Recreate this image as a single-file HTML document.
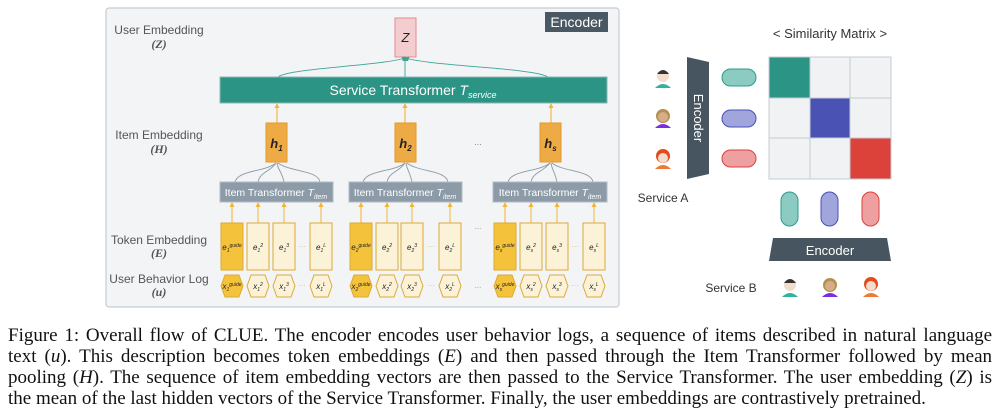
<!DOCTYPE html>
<html><head><meta charset="utf-8">
<style>
html,body{margin:0;padding:0;background:#fff;}
body{width:999px;height:417px;position:relative;overflow:hidden;}
svg{position:absolute;left:0;top:0;}
.cap{position:absolute;left:8px;top:325px;width:984px;font-family:"Liberation Serif",serif;font-size:19px;line-height:21px;color:#111;}
.cap div{text-align:justify;text-align-last:justify;white-space:nowrap;}
.cap div.last{text-align-last:left;}
</style></head><body>
<svg width="999" height="417" xmlns="http://www.w3.org/2000/svg" font-family="Liberation Sans, sans-serif">
<defs>
<marker id="ao" markerUnits="userSpaceOnUse" markerWidth="6" markerHeight="6" refX="3" refY="3" orient="auto"><path d="M0,0.5 L5,3 L0,5.5z" fill="#f0b63a"/></marker>
<marker id="at" markerUnits="userSpaceOnUse" markerWidth="6" markerHeight="6" refX="3" refY="3" orient="auto"><path d="M0,0.5 L5,3 L0,5.5z" fill="#3aa595"/></marker>
</defs>
<rect x="106" y="8" width="513" height="299" rx="3" fill="#f3f4f5" stroke="#c4ccd2" stroke-width="1.2"/>
<rect x="545" y="12" width="63" height="20" fill="#4a5864"/>
<text x="576.5" y="27" font-size="14" fill="#fff" text-anchor="middle">Encoder</text>
<g font-size="12" fill="#555" text-anchor="middle">
<text x="159" y="34">User Embedding</text>
<text x="159" y="48" font-family="Liberation Serif, serif" font-style="italic" font-weight="bold" font-size="12">(Z)</text>
<text x="159" y="139">Item Embedding</text>
<text x="159" y="153" font-family="Liberation Serif, serif" font-style="italic" font-weight="bold" font-size="12">(H)</text>
<text x="159" y="244">Token Embedding</text>
<text x="159" y="257" font-family="Liberation Serif, serif" font-style="italic" font-weight="bold" font-size="12">(E)</text>
<text x="159" y="283">User Behavior Log</text>
<text x="159" y="296" font-family="Liberation Serif, serif" font-style="italic" font-weight="bold" font-size="12">(u)</text>
</g>
<rect x="395" y="18" width="21" height="39" fill="#f4cdd0" stroke="#e88a90" stroke-width="1"/>
<text x="405.5" y="42" font-size="13" font-style="italic" text-anchor="middle" fill="#222">Z</text>
<g fill="none" stroke="#3aa595" stroke-width="0.9">
<path d="M278,77 C290,68 380,66 405,58" marker-end="url(#at)"/>
<path d="M405,77 L405,58" marker-end="url(#at)"/>
<path d="M548,77 C535,68 430,66 406,58" marker-end="url(#at)"/>
</g>
<rect x="220" y="77" width="387" height="26" fill="#2b9484" stroke="#8fb8b0" stroke-width="1"/>
<text x="413" y="95" font-size="14" fill="#fff" text-anchor="middle">Service Transformer <tspan font-style="italic">T</tspan><tspan font-size="9" font-style="italic" dy="3">service</tspan></text>
<g stroke="#f5c56a" stroke-width="1.5" fill="none">
<path d="M277,123 L277,105" marker-end="url(#ao)"/>
<path d="M405,123 L405,105" marker-end="url(#ao)"/>
<path d="M551,123 L551,105" marker-end="url(#ao)"/>
</g>
<g fill="#eeab45" stroke="#e39a2a" stroke-width="1">
<rect x="266" y="123" width="21" height="39"/>
<rect x="395" y="123" width="21" height="39"/>
<rect x="540" y="123" width="21" height="39"/>
</g>
<g font-size="13" font-style="italic" font-weight="bold" fill="#222" text-anchor="middle">
<text x="276.5" y="148">h<tspan font-size="8" dy="3">1</tspan></text>
<text x="405.5" y="148">h<tspan font-size="8" dy="3">2</tspan></text>
<text x="550.5" y="148">h<tspan font-size="8" dy="3">s</tspan></text>
</g>
<text x="478" y="145" font-size="9" fill="#888" text-anchor="middle">...</text>
<g fill="none" stroke="#8a9aa6" stroke-width="0.9">
<path d="M235,182 C238,170 265,172 276,163"/><path d="M258,182 C260,172 270,172 276,163"/><path d="M284,182 C282,172 278,170 277,163"/><path d="M320,182 C318,170 290,172 278,163"/>
<path d="M363,182 C366,170 394,172 405,163"/><path d="M387,182 C389,172 399,172 405,163"/><path d="M412,182 C410,172 407,170 406,163"/><path d="M448,182 C446,170 418,172 407,163"/>
<path d="M508,182 C511,170 539,172 550,163"/><path d="M531,182 C533,172 543,172 550,163"/><path d="M557,182 C555,172 552,170 551,163"/><path d="M593,182 C591,170 563,172 552,163"/>
</g>
<g fill="#8c9ba7" stroke="#b0bcc5" stroke-width="1">
<rect x="220" y="182" width="113" height="20"/>
<rect x="349" y="182" width="113" height="20"/>
<rect x="493" y="182" width="114" height="20"/>
</g>
<g font-size="10.5" fill="#fff" text-anchor="middle">
<text x="276" y="196">Item Transformer <tspan font-style="italic">T</tspan><tspan font-size="7" font-style="italic" dy="3">item</tspan></text>
<text x="405" y="196">Item Transformer <tspan font-style="italic">T</tspan><tspan font-size="7" font-style="italic" dy="3">item</tspan></text>
<text x="550" y="196">Item Transformer <tspan font-style="italic">T</tspan><tspan font-size="7" font-style="italic" dy="3">item</tspan></text>
</g>
<g stroke="#f0b63a" stroke-width="1" fill="none">
<path d="M232,223 V204" stroke="#f5d48a" stroke-width="2" marker-end="url(#ao)"/><path d="M258,223 V204" marker-end="url(#ao)"/><path d="M284,223 V204" marker-end="url(#ao)"/><path d="M321,223 V204" marker-end="url(#ao)"/>
<path d="M361,223 V204" stroke="#f5d48a" stroke-width="2" marker-end="url(#ao)"/><path d="M387,223 V204" marker-end="url(#ao)"/><path d="M412,223 V204" marker-end="url(#ao)"/><path d="M450,223 V204" marker-end="url(#ao)"/>
<path d="M505,223 V204" stroke="#f5d48a" stroke-width="2" marker-end="url(#ao)"/><path d="M531,223 V204" marker-end="url(#ao)"/><path d="M557,223 V204" marker-end="url(#ao)"/><path d="M594,223 V204" marker-end="url(#ao)"/>
</g>
<g stroke="#dcaa36" stroke-width="1">
<rect x="221" y="223" width="22" height="47" fill="#f4c33b"/><rect x="247" y="223" width="22" height="47" fill="#fcf2d8"/><rect x="273" y="223" width="22" height="47" fill="#fcf2d8"/><rect x="310" y="223" width="22" height="47" fill="#fcf2d8"/>
<rect x="350" y="223" width="22" height="47" fill="#f4c33b"/><rect x="376" y="223" width="22" height="47" fill="#fcf2d8"/><rect x="401" y="223" width="22" height="47" fill="#fcf2d8"/><rect x="439" y="223" width="22" height="47" fill="#fcf2d8"/>
<rect x="494" y="223" width="22" height="47" fill="#f4c33b"/><rect x="520" y="223" width="22" height="47" fill="#fcf2d8"/><rect x="546" y="223" width="22" height="47" fill="#fcf2d8"/><rect x="583" y="223" width="22" height="47" fill="#fcf2d8"/>
</g>
<g stroke="#dcaa36" stroke-width="1">
<polygon points="225,275 239,275 243,286 239,297 225,297 221,286" fill="#f4c33b"/>
<polygon points="251,275 265,275 269,286 265,297 251,297 247,286" fill="#fcf2d8"/>
<polygon points="277,275 291,275 295,286 291,297 277,297 273,286" fill="#fcf2d8"/>
<polygon points="314,275 328,275 332,286 328,297 314,297 310,286" fill="#fcf2d8"/>
<polygon points="354,275 368,275 372,286 368,297 354,297 350,286" fill="#f4c33b"/>
<polygon points="380,275 394,275 398,286 394,297 380,297 376,286" fill="#fcf2d8"/>
<polygon points="405,275 419,275 423,286 419,297 405,297 401,286" fill="#fcf2d8"/>
<polygon points="443,275 457,275 461,286 457,297 443,297 439,286" fill="#fcf2d8"/>
<polygon points="498,275 512,275 516,286 512,297 498,297 494,286" fill="#f4c33b"/>
<polygon points="524,275 538,275 542,286 538,297 524,297 520,286" fill="#fcf2d8"/>
<polygon points="550,275 564,275 568,286 564,297 550,297 546,286" fill="#fcf2d8"/>
<polygon points="587,275 601,275 605,286 601,297 587,297 583,286" fill="#fcf2d8"/>
</g>
<g font-size="8" fill="#222" text-anchor="middle" font-style="italic">
<text x="232" y="250">e<tspan font-size="5" dy="2">1</tspan><tspan font-size="5" dy="-5">guide</tspan></text>
<text x="258" y="250">e<tspan font-size="5" dy="2">1</tspan><tspan font-size="5" dy="-5">2</tspan></text>
<text x="284" y="250">e<tspan font-size="5" dy="2">1</tspan><tspan font-size="5" dy="-5">3</tspan></text>
<text x="321" y="250">e<tspan font-size="5" dy="2">1</tspan><tspan font-size="5" dy="-5">L</tspan></text>
<text x="361" y="250">e<tspan font-size="5" dy="2">2</tspan><tspan font-size="5" dy="-5">guide</tspan></text>
<text x="387" y="250">e<tspan font-size="5" dy="2">2</tspan><tspan font-size="5" dy="-5">2</tspan></text>
<text x="412" y="250">e<tspan font-size="5" dy="2">2</tspan><tspan font-size="5" dy="-5">3</tspan></text>
<text x="450" y="250">e<tspan font-size="5" dy="2">2</tspan><tspan font-size="5" dy="-5">L</tspan></text>
<text x="505" y="250">e<tspan font-size="5" dy="2">s</tspan><tspan font-size="5" dy="-5">guide</tspan></text>
<text x="531" y="250">e<tspan font-size="5" dy="2">s</tspan><tspan font-size="5" dy="-5">2</tspan></text>
<text x="557" y="250">e<tspan font-size="5" dy="2">s</tspan><tspan font-size="5" dy="-5">3</tspan></text>
<text x="594" y="250">e<tspan font-size="5" dy="2">s</tspan><tspan font-size="5" dy="-5">L</tspan></text>
<text x="232" y="289">x<tspan font-size="5" dy="2">1</tspan><tspan font-size="5" dy="-5">guide</tspan></text>
<text x="258" y="289">x<tspan font-size="5" dy="2">1</tspan><tspan font-size="5" dy="-5">2</tspan></text>
<text x="284" y="289">x<tspan font-size="5" dy="2">1</tspan><tspan font-size="5" dy="-5">3</tspan></text>
<text x="321" y="289">x<tspan font-size="5" dy="2">1</tspan><tspan font-size="5" dy="-5">L</tspan></text>
<text x="361" y="289">x<tspan font-size="5" dy="2">2</tspan><tspan font-size="5" dy="-5">guide</tspan></text>
<text x="387" y="289">x<tspan font-size="5" dy="2">2</tspan><tspan font-size="5" dy="-5">2</tspan></text>
<text x="412" y="289">x<tspan font-size="5" dy="2">2</tspan><tspan font-size="5" dy="-5">3</tspan></text>
<text x="450" y="289">x<tspan font-size="5" dy="2">2</tspan><tspan font-size="5" dy="-5">L</tspan></text>
<text x="505" y="289">x<tspan font-size="5" dy="2">s</tspan><tspan font-size="5" dy="-5">guide</tspan></text>
<text x="531" y="289">x<tspan font-size="5" dy="2">s</tspan><tspan font-size="5" dy="-5">2</tspan></text>
<text x="557" y="289">x<tspan font-size="5" dy="2">s</tspan><tspan font-size="5" dy="-5">3</tspan></text>
<text x="594" y="289">x<tspan font-size="5" dy="2">s</tspan><tspan font-size="5" dy="-5">L</tspan></text>
</g>
<g font-size="8" fill="#e0c070" text-anchor="middle">
<text x="302" y="249">···</text><text x="431" y="249">···</text><text x="575" y="249">···</text>
<text x="302" y="288">···</text><text x="431" y="288">···</text><text x="575" y="288">···</text>
<text x="478" y="229" fill="#999">...</text><text x="478" y="288" fill="#999">...</text>
</g>
<text x="830" y="38" font-size="13" fill="#333" text-anchor="middle">&lt; Similarity Matrix &gt;</text>
<g stroke="#c4ccd4" stroke-width="1">
<rect x="769" y="57" width="41" height="41" fill="#2b9484"/><rect x="810" y="57" width="40" height="41" fill="#f1f2f4"/><rect x="850" y="57" width="41" height="41" fill="#f1f2f4"/>
<rect x="769" y="98" width="41" height="40" fill="#f1f2f4"/><rect x="810" y="98" width="40" height="40" fill="#4a52b4"/><rect x="850" y="98" width="41" height="40" fill="#f1f2f4"/>
<rect x="769" y="138" width="41" height="41" fill="#f1f2f4"/><rect x="810" y="138" width="40" height="41" fill="#f1f2f4"/><rect x="850" y="138" width="41" height="41" fill="#dc423a"/>
</g>
<polygon points="687,57 709,62 709,174 687,179" fill="#46555f"/>
<text transform="translate(694,118) rotate(90)" font-size="13" fill="#fff" text-anchor="middle">Encoder</text>
<rect x="722" y="69" width="34" height="17" rx="8.5" fill="#8ccbc1" stroke="#2a9d8a" stroke-width="1"/>
<rect x="722" y="110" width="34" height="17" rx="8.5" fill="#a0a6dc" stroke="#4850b8" stroke-width="1"/>
<rect x="722" y="150" width="34" height="17" rx="8.5" fill="#eea0a0" stroke="#dc4040" stroke-width="1"/>
<rect x="781" y="192" width="17" height="34" rx="8.5" fill="#8ccbc1" stroke="#2a9d8a" stroke-width="1"/>
<rect x="821" y="192" width="17" height="34" rx="8.5" fill="#a0a6dc" stroke="#4850b8" stroke-width="1"/>
<rect x="862" y="192" width="17" height="34" rx="8.5" fill="#eea0a0" stroke="#dc4040" stroke-width="1"/>
<polygon points="773,238 887,238 891,261 769,261" fill="#46555f"/>
<text x="830" y="255" font-size="13" fill="#fff" text-anchor="middle">Encoder</text>
<text x="663" y="202" font-size="12" fill="#333" text-anchor="middle">Service A</text>
<text x="731" y="292" font-size="12" fill="#333" text-anchor="middle">Service B</text>
<g>
<path d="M655,88 Q663,80 671,88 Z" fill="#2fb59c"/><circle cx="663" cy="76" r="6" fill="#f2dccb"/><path d="M657,74 Q663,66 669,74 Z" fill="#333"/>
<path d="M655,128 Q663,120 671,128 Z" fill="#7a2ee0"/><circle cx="663" cy="116" r="7" fill="#b69050"/><circle cx="663" cy="117" r="5" fill="#d7ad88"/>
<path d="M655,169 Q663,161 671,169 Z" fill="#f07a30"/><circle cx="663" cy="156" r="7" fill="#e84a20"/><circle cx="663" cy="158" r="5" fill="#f2dccb"/>
<path d="M782,297 Q790,289 798,297 Z" fill="#2fb59c"/><circle cx="790" cy="285" r="6" fill="#f2dccb"/><path d="M784,283 Q790,275 796,283 Z" fill="#333"/>
<path d="M822,297 Q830,289 838,297 Z" fill="#7a2ee0"/><circle cx="830" cy="285" r="7" fill="#b69050"/><circle cx="830" cy="286" r="5" fill="#d7ad88"/>
<path d="M863,297 Q871,289 879,297 Z" fill="#f07a30"/><circle cx="871" cy="284" r="7" fill="#e84a20"/><circle cx="871" cy="286" r="5" fill="#f2dccb"/>
</g>
</svg>
<div class="cap">
<div>Figure 1: Overall flow of CLUE. The encoder encodes user behavior logs, a sequence of items described in natural language</div>
<div>text (<i>u</i>). This description becomes token embeddings (<i>E</i>) and then passed through the Item Transformer followed by mean</div>
<div>pooling (<i>H</i>). The sequence of item embedding vectors are then passed to the Service Transformer. The user embedding (<i>Z</i>) is</div>
<div class="last">the mean of the last hidden vectors of the Service Transformer. Finally, the user embeddings are contrastively pretrained.</div>
</div>
</body></html>
